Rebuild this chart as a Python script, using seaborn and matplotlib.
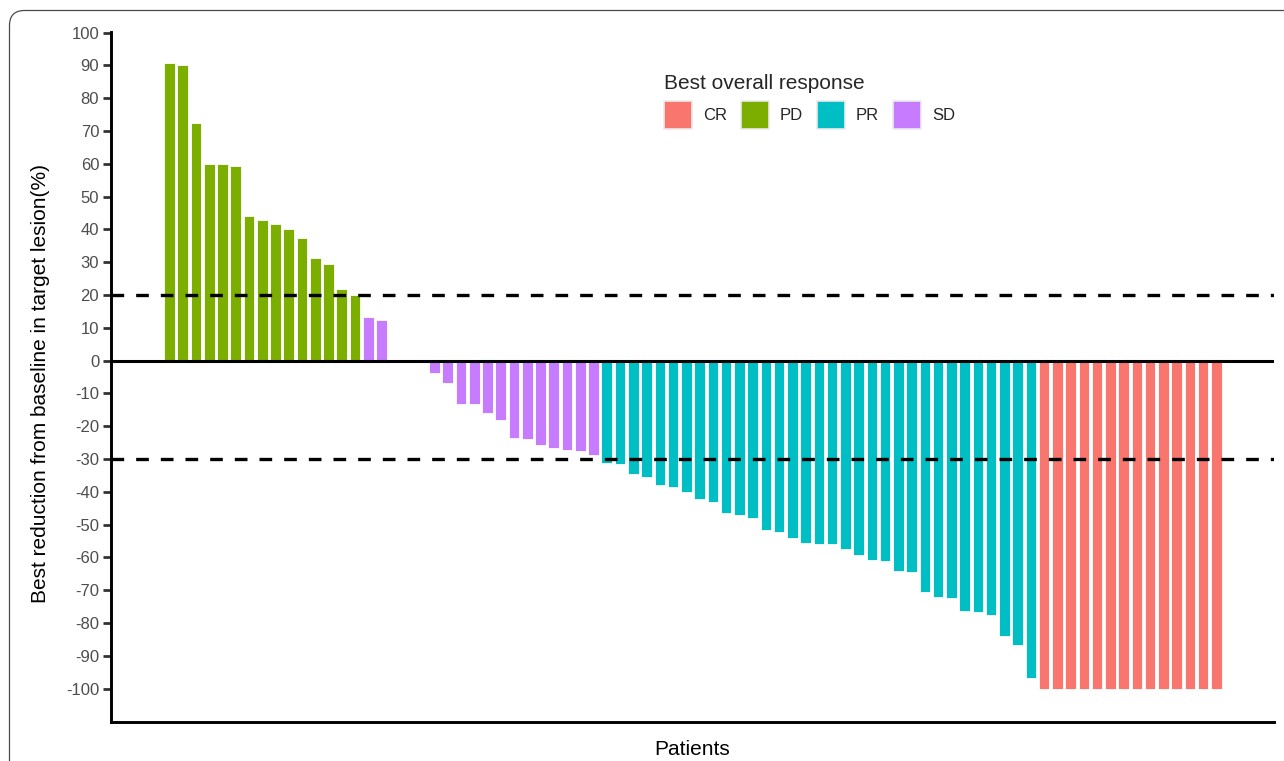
import numpy as np
import pandas as pd
import matplotlib
matplotlib.use("Agg")
import matplotlib.pyplot as plt
from matplotlib.patches import Patch, FancyBboxPatch
import seaborn as sns

# ---- data ----
pd_values = [90.9, 90.2, 72.4, 59.9, 59.9, 59.4, 44.0, 42.9, 41.6, 40.1,
             37.3, 31.2, 29.6, 21.8, 20.0]
sd_values = [13.3, 12.5, 0.0, 0.0, 0.0, -3.7, -6.8, -13.3, -13.3, -15.9,
             -18.1, -23.6, -23.9, -25.6, -26.7, -27.4, -27.6, -28.7]
pr_values = [-31.1, -31.4, -34.6, -35.4, -37.8, -38.6, -40.2, -42.2, -43.0,
             -46.4, -47.2, -48.0, -51.6, -52.2, -54.2, -55.5, -56.0, -56.0,
             -57.3, -59.2, -60.8, -61.0, -64.2, -64.5, -70.5, -72.0, -72.5,
             -76.4, -76.8, -77.5, -84.0, -86.8, -96.8]
cr_values = [-100, -100, -100, -100, -100, -100, -100, -100, -100, -100,
             -100, -100, -100, -100]
responses = ["CR", "PD", "PR", "SD"]
colors = ["#F8766D", "#7CAE00", "#00BFC4", "#C77CFF"]
y_ticks = list(range(-100, 101, 10))
thresholds = [20, -30]

change = pd_values + sd_values + pr_values + cr_values
response = (["PD"] * len(pd_values) + ["SD"] * len(sd_values)
            + ["PR"] * len(pr_values) + ["CR"] * len(cr_values))
patients = [f"P{i+1:02d}" for i in range(len(change))]
df = pd.DataFrame({"patient": patients, "change": change, "response": response})

sns.set_style("white")
plt.rcParams["font.family"] = ["Liberation Sans", "DejaVu Sans"]

fig = plt.figure(figsize=(12.84, 7.61), dpi=100)
W, H = 1284, 761
ax = fig.add_axes([111 / W, 1 - 721.7 / H, (1274 - 111) / W, (721.7 - 32) / H])

palette = dict(zip(responses, colors))
sns.barplot(data=df, x="patient", y="change", hue="response",
            hue_order=responses, palette=palette, order=patients,
            dodge=False, width=0.8, edgecolor="white", linewidth=0.6,
            legend=False, ax=ax, saturation=1)

n = len(change)
ax.set_xlim(-4.415, n - 1 + 4.35)
ax.set_ylim(-110.1, 100.2)

for t in thresholds:
    ax.axhline(t, color="black", linewidth=2.4, dashes=(3.8, 3.6), zorder=3)
ax.axhline(0, color="black", linewidth=2.2, zorder=3)

ax.set_yticks(y_ticks)
ax.set_yticklabels([str(v) for v in y_ticks])
ax.set_xticks([])
ax.tick_params(axis="y", length=5.5, width=2, color="#333333",
               labelsize=12, labelcolor="#4D4D4D", pad=3, left=True)
for s in ["top", "right"]:
    ax.spines[s].set_visible(False)
for s in ["left", "bottom"]:
    ax.spines[s].set_color("black")
    ax.spines[s].set_linewidth(2.1)

ax.set_ylabel("Best reduction from baseline in target lesion(%)", fontsize=15,
              color="black")
ax.yaxis.label.set_va("center")
ax.yaxis.set_label_coords(-0.061, 0.49)
ax.set_xlabel("Patients", fontsize=15, color="black")
ax.xaxis.label.set_va("center")
ax.xaxis.set_label_coords(0.5, -0.041)

handles = [Patch(facecolor=c, edgecolor="#EBEBEB", linewidth=1.2) for c in colors]
leg = fig.legend(handles, responses, title="Best overall response",
                 loc="upper left", bbox_to_anchor=(664 / W, 1 - 74 / H),
                 ncol=4, frameon=False, fontsize=12, title_fontsize=15,
                 handlelength=1.68, handleheight=2.2, handletextpad=0.65,
                 columnspacing=0.85, borderpad=0, borderaxespad=0,
                 labelspacing=0.5, alignment="left")
leg._legend_box.sep = 6

# rounded frame around the figure (cut off at right and bottom)
frame = FancyBboxPatch((9.5 / 100, -0.5), 14.0, 7.61 - 10.5 / 100 + 0.5,
                       boxstyle="round,pad=0,rounding_size=0.15",
                       transform=fig.dpi_scale_trans, facecolor="none",
                       edgecolor="#4a4a4a", linewidth=0.9)
fig.patches.append(frame)

fig.savefig("out.png", dpi=100)
